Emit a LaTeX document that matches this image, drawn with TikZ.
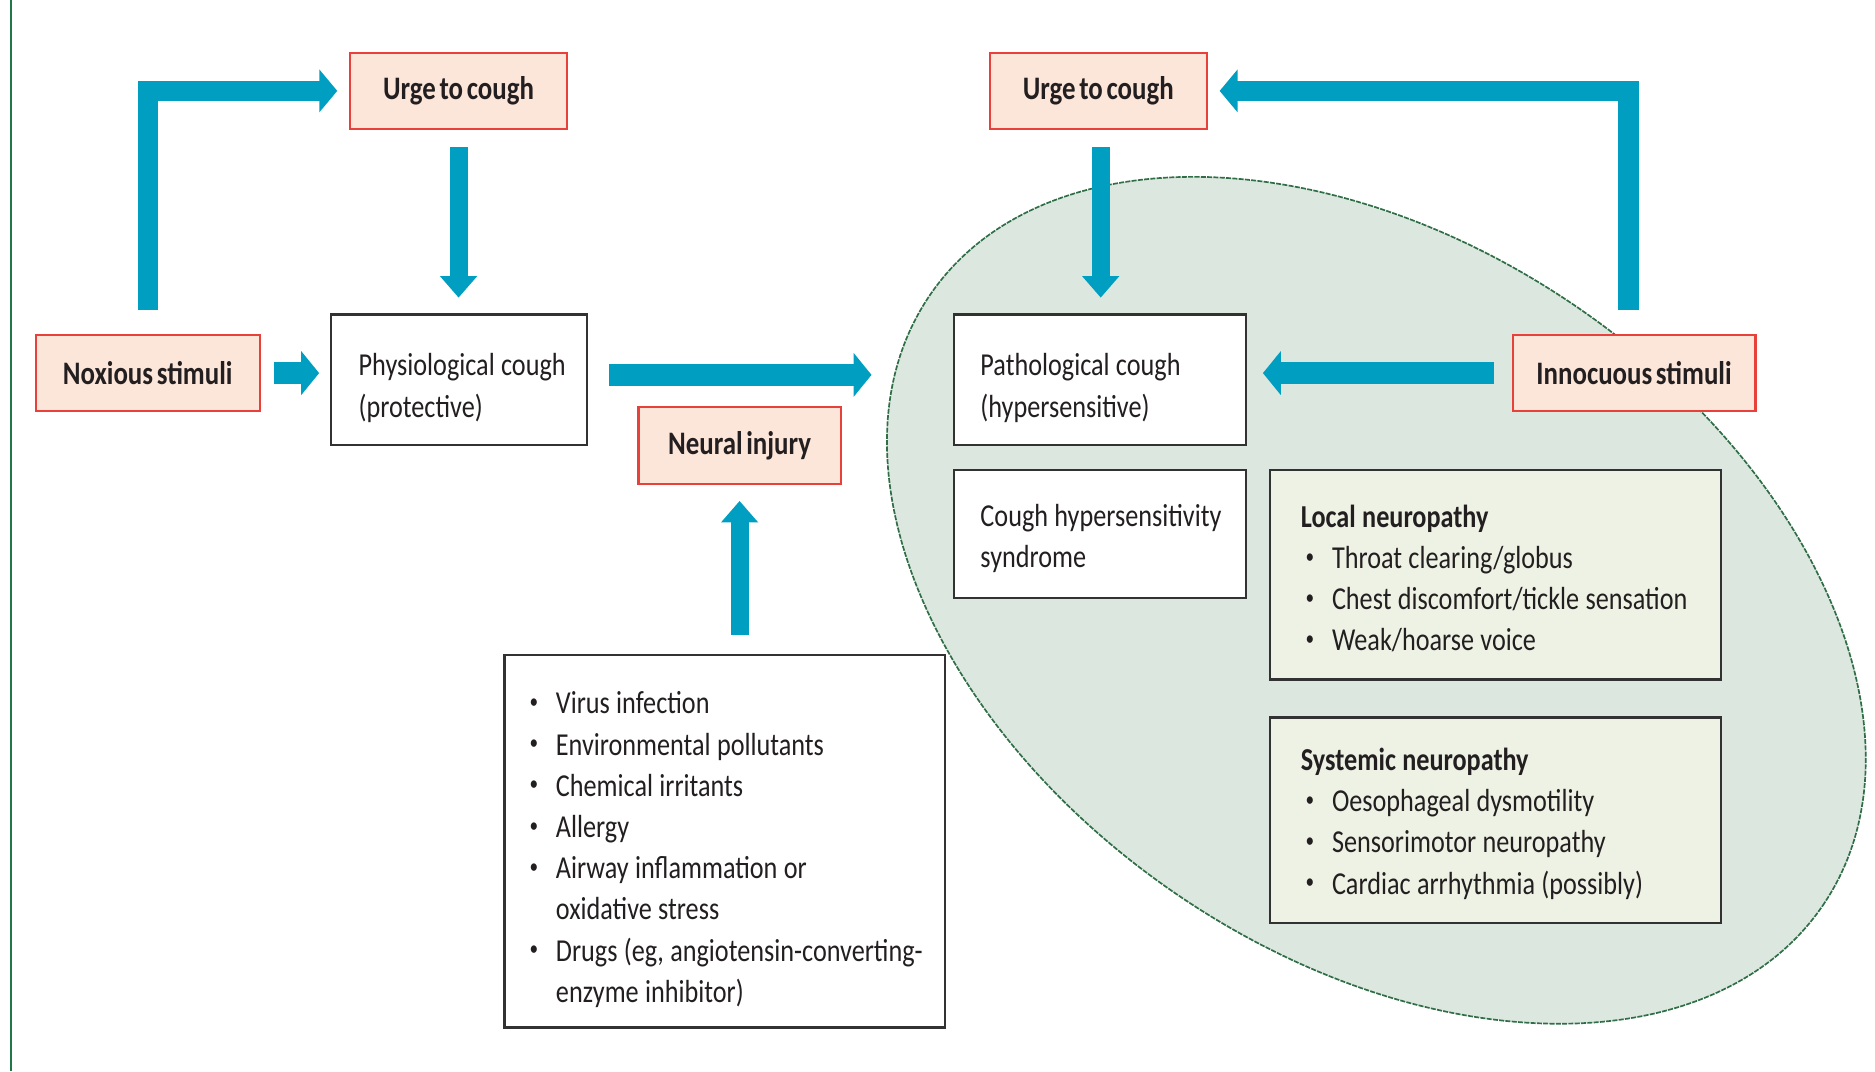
\documentclass[tikz,border=0pt]{standalone}
\usepackage{fontspec}
\setmainfont{Carlito}[FakeStretch=0.82, WordSpace=0.6]
\usetikzlibrary{arrows.meta}
\definecolor{arrowblue}{RGB}{0,159,194}
\definecolor{boxred}{RGB}{232,64,58}
\definecolor{boxpink}{RGB}{252,229,217}
\definecolor{ellfill}{RGB}{220,232,223}
\definecolor{elldraw}{RGB}{47,110,70}
\definecolor{greenbox}{RGB}{237,242,228}
\definecolor{txt}{RGB}{35,31,32}
\definecolor{boxline}{RGB}{50,50,50}
\definecolor{leftgreen}{RGB}{30,120,75}
\newcommand\smallbul{\raisebox{0.35ex}{\fontsize{5}{5}\selectfont •}}
\newcommand\mybul{\makebox[0.22cm][l]{\smallbul}}
\newcommand\myind{\hspace*{0.22cm}}
\newcommand\mybulb{\makebox[0.26cm][l]{\hspace{0.04cm}\smallbul}}
\newlength\tsplen
\newcommand\tsp[1]{\setlength\tsplen{#1}\addtolength\tsplen{5.8pt}\rule{0pt}{\tsplen}}
\newcommand\tightsp{\spaceskip=1.5pt plus 0.4pt minus 0.2pt\relax}
\begin{document}
\begin{tikzpicture}[x=0.01cm,y=-0.01cm,
  redbox/.style={draw=boxred, fill=boxpink, line width=0.5pt, inner sep=0pt,
    font=\bfseries\fontsize{7.8}{10}\selectfont, text=txt},
  plainbox/.style={draw=boxline, fill=white, line width=0.6pt, inner ysep=0pt,
    align=left, font=\fontsize{7.6}{9.8}\selectfont, text=txt},
  grbox/.style={plainbox, fill=greenbox},
  arrH/.style={draw=arrowblue, line width=0.19cm, -{Triangle[length=0.15cm, width=0.36cm]}},
  arrT/.style={draw=arrowblue, line width=0.17cm, line join=miter, -{Triangle[length=0.15cm, width=0.35cm]}},
  arrV/.style={draw=arrowblue, line width=0.15cm, -{Triangle[length=0.18cm, width=0.30cm]}},
  ellstyle/.style={fill=ellfill, draw=elldraw, line width=0.4pt, dash pattern=on 1.2pt off 0.3pt}
]
\useasboundingbox (0,0) rectangle (1568,896);
\draw[draw=leftgreen, line width=0.5pt] (9,0) -- (9,896);

\draw[ellstyle, rotate around={-34.4:(1151,502)}] (1151,502) ellipse [x radius=4.52cm, y radius=2.97cm];

\node[redbox, minimum width=1.81cm, minimum height=0.64cm] (urgeL) at (383.5,76) {Urge to cough};
\node[redbox, minimum width=1.81cm, minimum height=0.64cm] (urgeR) at (918.5,76) {Urge to cough};
\node[redbox, minimum width=1.87cm, minimum height=0.64cm] (nox) at (123.5,312) {Noxious stimuli};
\node[redbox, minimum width=2.03cm, minimum height=0.64cm] (innoc) at (1366.5,312) {Innocuous stimuli};
\node[redbox, minimum width=1.69cm, minimum height=0.65cm] (neural) at (618.5,372.5) {Neural injury};

\node[plainbox, inner xsep=0.23cm, text width=1.68cm, minimum height=1.09cm] (phys) at (384,317.5)
  {\tightsp\tsp{0.12cm}\mbox{Physiological cough}\\(protective)};
\node[plainbox, inner xsep=0.22cm, text width=2.00cm, minimum height=1.09cm] (path) at (920,317.5)
  {\tightsp\tsp{0.12cm}\mbox{Pathological cough}\\(hypersensitive)};
\node[plainbox, inner xsep=0.22cm, text width=2.00cm, minimum height=1.07cm] (chs) at (920,446.5)
  {\tightsp\tsp{0.06cm}\mbox{Cough hypersensitivity}\\syndrome};
\node[grbox, inner xsep=0.26cm, text width=3.25cm, minimum height=1.75cm] (local) at (1250.5,480.5)
  {\tightsp\tsp{0.05cm}\textbf{Local neuropathy}\\
   \mybulb Throat clearing/globus\\
   \mbox{\mybulb Chest discomfort/tickle sensation}\\
   \mybulb Weak/hoarse voice};
\node[grbox, inner xsep=0.26cm, text width=3.25cm, minimum height=1.72cm] (sys) at (1250.5,686)
  {\tightsp\tsp{0.04cm}\textbf{Systemic neuropathy}\\
   \mybulb Oesophageal dysmotility\\
   \mybulb Sensorimotor neuropathy\\
   \mbox{\mybulb Cardiac arrhythmia (possibly)}};
\node[plainbox, inner xsep=0.21cm, text width=3.26cm, minimum height=3.11cm] (list) at (606,703.5)
  {\tightsp\tsp{0.12cm}\mybul Virus infection\\
   \mybul Environmental pollutants\\
   \mybul Chemical irritants\\
   \mybul Allergy\\
   \mbox{\mybul Airway inflammation or}\\
   \myind oxidative stress\\
   \mbox{\mybul Drugs (eg, angiotensin-converting-}\\
   \myind enzyme inhibitor)};

\draw[arrT, shorten <=0.2cm, shorten >=0.1cm] (nox.north) |- (urgeL.west);
\draw[arrT, shorten <=0.2cm, shorten >=0.1cm] ([xshift=-0.045cm]innoc.north) |- (urgeR.east);
\draw[arrV, shorten <=0.14cm, shorten >=0.13cm] (urgeL.south) -- (urgeL.south |- phys.north);
\draw[arrV, shorten <=0.14cm, shorten >=0.13cm] ([xshift=0.02cm]urgeR.south) -- ([xshift=0.02cm]urgeR.south |- path.north);
\draw[arrV, shorten <=0.16cm, shorten >=0.13cm] (list.north -| neural.south) -- (neural.south);
\draw[arrH, shorten <=0.11cm, shorten >=0.09cm] (nox.east) -- (nox.east -| phys.west);
\draw[arrH, shorten <=0.17cm, shorten >=0.68cm] ([yshift=0.04cm]phys.east) -- ([yshift=0.04cm]phys.east -| path.west);
\draw[arrH, shorten <=0.15cm, shorten >=0.13cm] (innoc.west) -- (innoc.west -| path.east);
\end{tikzpicture}
\end{document}
